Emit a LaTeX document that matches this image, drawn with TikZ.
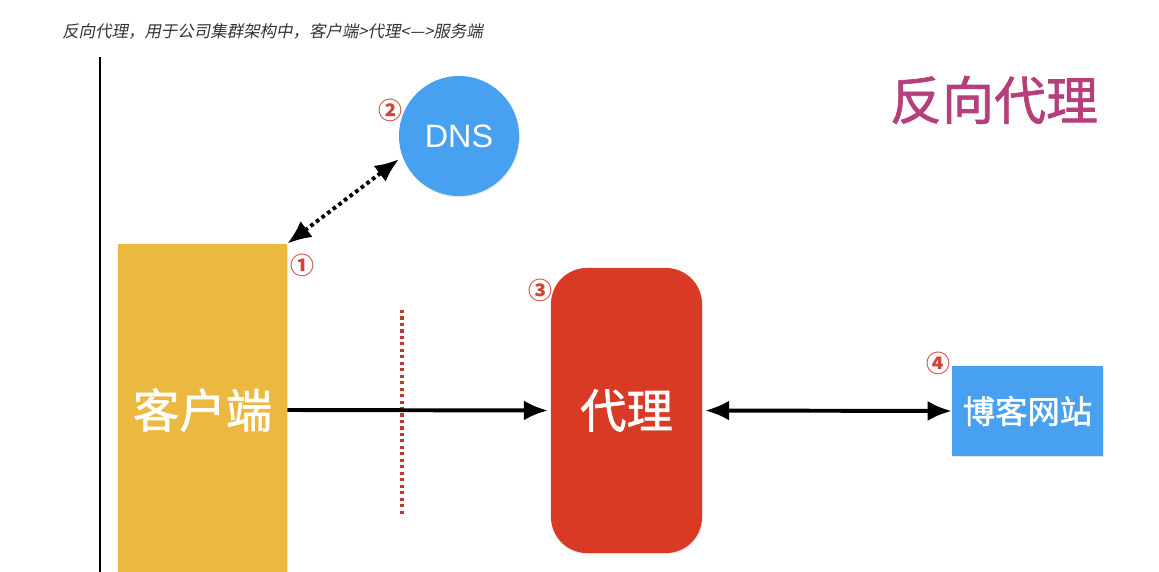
\documentclass[tikz,border=0pt]{standalone}
\usepackage{fontspec}
\setmainfont{Noto Sans CJK SC}
\newfontfamily\cjk{Noto Sans CJK SC}
\newfontfamily\cjkmed[FakeBold=1.3]{Noto Sans CJK SC}
\newfontfamily\cjkslant[FakeSlant=0.2]{Noto Sans CJK SC}
\newfontfamily\latinsans{Liberation Sans}
\usepackage{tikz}
\usetikzlibrary{arrows.meta, shadows}

\definecolor{clientcol}{HTML}{ECB940}
\definecolor{dnscol}{HTML}{47A0F0}
\definecolor{proxycol}{HTML}{D93A26}
\definecolor{markcol}{HTML}{D0453A}
\definecolor{titlecol}{HTML}{B53F7B}
\definecolor{cutcol}{HTML}{C0392B}

\tikzset{
  box/.style={inner sep=0pt, text=white, font=\cjk,
    drop shadow={opacity=0.18, shadow xshift=0.6pt, shadow yshift=-0.9pt}},
  num/.style={text=markcol, font=\cjk\bfseries\fontsize{17}{17}\selectfont, inner sep=0pt},
  link/.style={line width=2.8pt, -{Latex[length=0.6cm, width=0.5cm]}},
  twolink/.style={line width=2.8pt, {Latex[length=0.6cm, width=0.5cm]}-{Latex[length=0.6cm, width=0.5cm]}},
}

\begin{document}
\begin{tikzpicture}[x=0.025cm, y=-0.025cm]
			\useasboundingbox (0,0) rectangle (1159,572);
			% caption and frame line
			\node[anchor=west, text=black!80, font=\cjkslant\fontsize{11.7}{13}\selectfont, inner sep=0pt] (caption) at (62,31) {反向代理，用于公司集群架构中，客户端>代理<—>服务端};
			\coordinate (ltop) at (100,57);
			\coordinate (lbot) at (100,572);
			\draw[line width=1.4pt] (ltop) -- (lbot);
			% title
			\node[text=titlecol, font=\cjkmed\fontsize{37}{40}\selectfont, inner sep=0pt] (title) at (994,100) {反向代理};
			% boxes
			\node[box, fill=clientcol, minimum width=4.225cm, minimum height=8.3cm, font=\cjkmed\fontsize{33}{36}\selectfont] (client) at (202.5,410) {客户端};
			\node[box, circle, fill=dnscol, minimum size=3cm, font=\latinsans\fontsize{23}{26}\selectfont] (dns) at (459,136) {DNS};
			\node[box, fill=proxycol, rounded corners=0.9cm, minimum width=3.775cm, minimum height=7.125cm, font=\cjkmed\fontsize{33}{36}\selectfont] (proxy) at (626.5,410.5) {代理};
			\node[box, fill=dnscol, minimum width=3.775cm, minimum height=2.25cm, font=\cjkmed\fontsize{23}{26}\selectfont] (blog) at (1027.5,411) {博客网站};
			% step numbers
			\node[num] (n1) at (302,265) {①};
			\node[num] (n2) at (390,110) {②};
			\node[num] (n3) at (540,290) {③};
			\node[num] (n4) at (938,363) {④};
			% cut line
			\coordinate (cuttop) at (402,310);
			\coordinate (cutbot) at (402,517);
			\draw[cutcol, line width=2.4pt, dash pattern=on 2.2pt off 2.4pt] (cuttop) -- (cutbot);
			% connectors
			\draw[twolink, dash pattern=on 2.6pt off 2.4pt, shorten >=3pt] (client.north east) -- (dns.200);
			\draw[link, shorten >=2pt] (client.east) -- (proxy.west);
			\draw[twolink, shorten <=2pt] (proxy.east) -- (blog.west);
		\end{tikzpicture}
\end{document}
